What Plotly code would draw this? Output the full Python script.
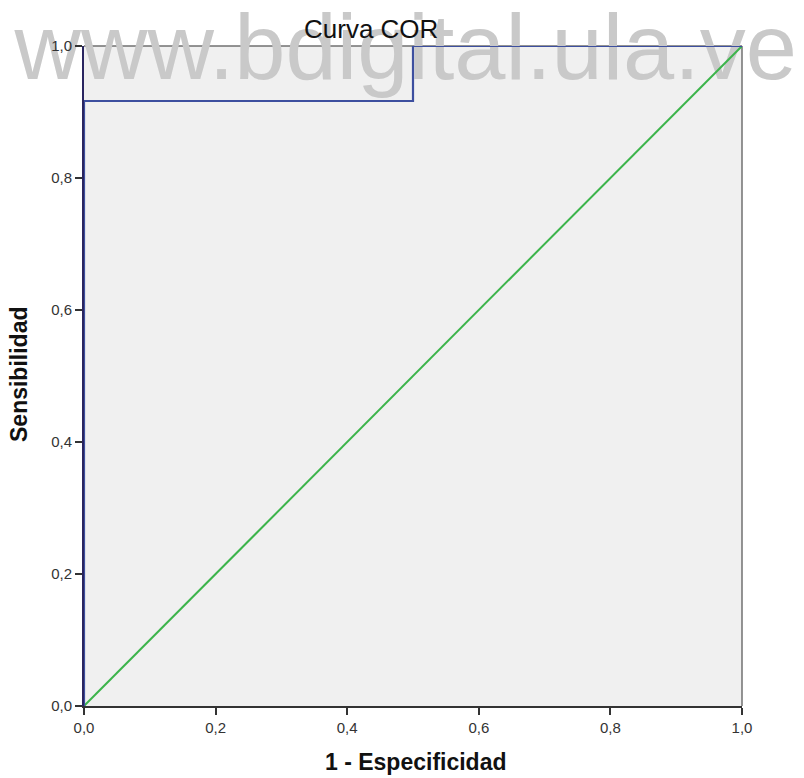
import plotly.graph_objects as go

# ROC curve points (1 - specificity, sensitivity)
fpr = [0.0, 0.0, 0.5, 0.5, 1.0]
tpr = [0.0, 0.9167, 0.9167, 1.0, 1.0]

# Reference (chance) line
ref_x = [0.0, 1.0]
ref_y = [0.0, 1.0]

tick_vals = [0.0, 0.2, 0.4, 0.6, 0.8, 1.0]

title_text = "Curva COR"
x_title = "1 - Especificidad"
y_title = "Sensibilidad"
watermark = "www.bdigital.ula.ve"

W, H = 804, 778
ml, mr, mt, mb = 84, 62, 46, 72
pw, ph = W - ml - mr, H - mt - mb

FONT = "Liberation Sans, Arial, sans-serif"

fig = go.Figure()

# Watermark text drawn first so the curves sit on top of it
fig.add_trace(go.Scatter(
    x=[0.489], y=[0.985], mode="text", text=[watermark],
    textposition="middle center", cliponaxis=False, hoverinfo="skip",
    textfont=dict(family=FONT, size=92, color="#c9c9c9"),
    showlegend=False,
))

fig.add_trace(go.Scatter(
    x=ref_x, y=ref_y, mode="lines",
    line=dict(color="#3cb44b", width=2), showlegend=False, hoverinfo="skip",
))
fig.add_trace(go.Scatter(
    x=fpr, y=tpr, mode="lines",
    line=dict(color="#3d4f9f", width=2.2), showlegend=False,
))

tick_font = dict(family=FONT, size=15, color="#333333")
label_font = dict(family=FONT, size=23, color="#111111")

fig.update_layout(
    width=W, height=H,
    margin=dict(l=ml, r=mr, t=mt, b=mb),
    paper_bgcolor="white", plot_bgcolor="#f0f0f0",
    separators=",.",
    showlegend=False,
    xaxis=dict(
        range=[0, 1], tickvals=tick_vals, tickformat=".1f",
        showgrid=False, zeroline=False,
        showline=True, linecolor="#333333", linewidth=1.5,
        ticks="outside", ticklen=7, tickwidth=1.5, tickcolor="#333333",
        tickfont=tick_font,
    ),
    yaxis=dict(
        range=[0, 1], tickvals=tick_vals, tickformat=".1f",
        showgrid=False, zeroline=False,
        showline=True, linecolor="#2a2560", linewidth=2,
        ticks="outside", ticklen=7, tickwidth=1.5, tickcolor="#333333",
        tickfont=tick_font,
    ),
    shapes=[
        dict(type="line", xref="paper", yref="paper", x0=0, x1=1, y0=1, y1=1,
             line=dict(color="#707070", width=1.5), layer="below"),
        dict(type="line", xref="paper", yref="paper", x0=1, x1=1, y0=0, y1=1,
             line=dict(color="#707070", width=1.5), layer="below"),
    ],
    annotations=[
        dict(text=title_text, xref="paper", yref="paper",
             x=(371 - ml) / pw, y=1, yshift=17, showarrow=False,
             xanchor="center", yanchor="middle",
             font=dict(family=FONT, size=26, color="#111111")),
        dict(text="<b>" + x_title + "</b>", xref="paper", yref="paper",
             x=(416 - ml) / pw, y=0, yshift=-56, showarrow=False,
             xanchor="center", yanchor="middle", font=label_font),
        dict(text="<b>" + y_title + "</b>", xref="paper", yref="paper",
             x=0, xshift=-65, y=(706 - 375) / ph, showarrow=False,
             textangle=-90, xanchor="center", yanchor="middle", font=label_font),
    ],
)

fig.write_html("out.html")
